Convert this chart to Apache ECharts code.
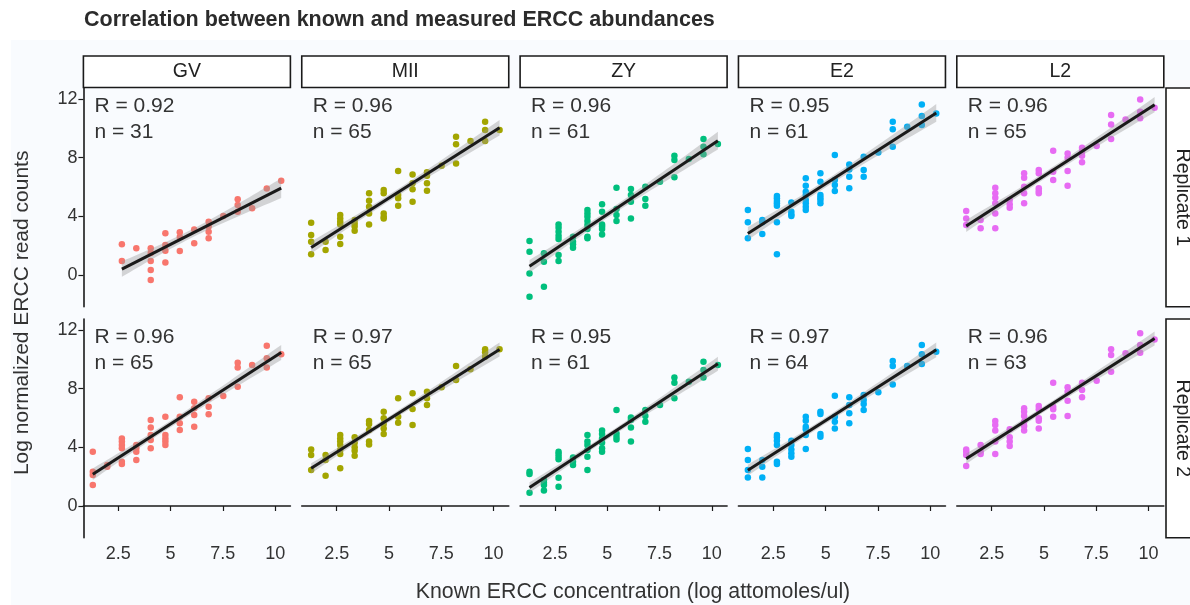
<!DOCTYPE html>
<html><head><meta charset="utf-8">
<script src="https://cdn.jsdelivr.net/npm/echarts@6/dist/echarts.min.js"></script>
<style>html,body{margin:0;padding:0;background:#fff}#c{width:1190px;height:605px}</style>
</head><body><div id="c"></div>
<script>
// ---------- data ----------
const concLevels = [1.28, 1.97, 2.67, 3.36, 4.05, 4.75, 5.44, 6.13, 6.82, 7.52, 8.21, 8.90, 9.60, 10.29];
const cellTypes = ['GV', 'MII', 'ZY', 'E2', 'L2'];
const replicates = ['Replicate 1', 'Replicate 2'];
const xTicks = [2.5, 5, 7.5, 10];
const yTicks = [0, 4, 8, 12];
const rRep1 = ['0.92', '0.96', '0.96', '0.95', '0.96'];
const nRep1 = [31, 65, 61, 61, 65];
const rRep2 = ['0.96', '0.97', '0.95', '0.97', '0.96'];
const nRep2 = [65, 65, 61, 64, 63];

// measured values, one list per concentration level
const gvRep1 = [[], [], [2.09, 0.95], [1.82], [1.82, 1.5, 0.95, 0.34, -0.34], [2.84, 2.05, 1.66, 0.86],
  [2.91, 2.6, 1.64], [3.11, 2.16], [3.64, 3.3, 2.95, 2.50], [4.02], [5.16, 4.77, 4.32], [4.55], [5.89], [6.43]];
const miiRep1 = [[3.57, 2.73, 2.27, 1.41], [2.27, 1.70], [4.09, 3.86, 3.64, 3.45, 2.61, 2.11], [3.75, 3.52, 3.30, 3.02],
  [5.57, 5.07, 4.66, 4.20, 3.45], [5.79, 5.57, 4.20, 3.98, 3.86], [7.09, 5.45, 5.23, 4.73], [6.86, 6.25, 5.84, 5.00],
  [7.00, 6.77, 6.25, 5.75], [7.45], [9.43, 8.91, 7.61], [9.13], [10.45, 9.88, 9.13], [9.88]];
const zyRep1 = [[2.32, 1.59, 0.11, -1.48], [1.48, 0.91, -0.80], [3.45, 3.23, 2.95, 2.68, 2.45, 1.36, 0.95], [2.61, 2.27, 2.09, 1.86],
  [4.43, 4.20, 3.98, 3.68, 3.41, 3.14, 2.61, 2.50], [4.82, 4.32, 3.45, 3.30, 3.14, 2.77], [5.95, 4.50, 4.09, 3.68],
  [5.86, 5.45, 5.00, 3.86], [6.02, 5.18, 4.73], [6.36], [8.13, 7.84, 6.66], [7.91], [9.27, 8.75, 8.23], [8.93]];
const e2Rep1 = [[4.43, 3.59, 2.50], [3.75, 3.59, 2.79], [5.39, 5.23, 5.04, 4.89, 4.73, 3.59, 1.41], [4.95, 4.32, 4.13, 4.02],
  [6.59, 6.09, 5.68, 5.45, 5.11, 4.89, 4.66, 4.43], [6.93, 6.36, 5.45, 5.27, 5.11, 4.89], [8.18, 6.48, 6.13, 5.73],
  [7.54, 7.2, 6.70, 5.91], [8.07, 7.16, 6.70], [8.36], [10.45, 9.93, 8.75], [10.11], [11.63, 10.84, 10.23], [11.02]];
const l2Rep1 = [[4.36, 3.86, 3.41], [3.75, 3.18], [5.95, 5.57, 5.27, 4.89, 4.20, 3.18], [5.11, 4.82, 4.59],
  [6.93, 6.63, 6.02, 5.57, 4.89], [7.16, 6.93, 5.91, 5.73, 5.57], [8.48, 7.04, 6.48], [8.29, 8.00, 7.09, 6.09],
  [8.68, 8.41, 8.13, 7.68], [8.79], [10.91, 10.27, 9.27], [10.61], [11.97, 11.13, 10.68], [11.41]];
const gvRep2 = [[3.70, 2.34, 2.11, 1.43], [2.79, 2.68], [4.61, 4.39, 4.16, 3.93, 3.02, 2.86], [4.16, 3.93, 3.70, 3.14],
  [5.86, 5.36, 4.84, 4.50, 3.93], [6.09, 4.84, 4.61, 4.39, 4.16], [7.41, 6.09, 5.64, 5.18], [7.11, 6.66, 6.20, 5.41],
  [7.34, 6.77, 6.25], [7.50], [9.77, 9.45, 8.13], [9.61], [10.93, 10.07, 9.45], [10.34]];
const miiRep2 = [[3.86, 3.48, 2.45], [3.48, 3.14, 2.07], [4.84, 4.61, 4.39, 4.16, 3.82, 3.54, 2.57], [4.68, 4.32, 4.00, 3.77, 3.43],
  [5.79, 5.59, 5.18, 4.39, 4.20], [6.43, 5.98, 5.59, 5.29, 4.91], [7.34, 6.09, 5.68], [7.68, 6.61, 5.52],
  [7.79, 7.34, 6.88], [8.09], [9.54, 8.59], [9.32], [10.68, 10.48, 10.18], [10.68]];
const zyRep2 = [[2.34, 2.18, 0.91], [1.77, 1.59, 1.43, 1.05], [3.70, 3.54, 3.36, 3.18, 1.93, 1.32], [3.30, 3.02, 2.79],
  [4.84, 4.39, 4.16, 3.82, 3.36, 2.45], [5.14, 4.91, 4.61, 4.32, 3.93, 3.70], [6.54, 4.95, 4.73, 4.54],
  [6.04, 5.86, 5.36, 4.39], [6.54, 6.13, 5.75], [6.88], [8.77, 8.41, 7.34], [8.48], [9.84, 9.27, 8.77], [9.61]];
const e2Rep2 = [[3.89, 3.14, 2.45, 1.95], [3.14, 2.68, 1.95], [4.84, 4.68, 4.45, 4.16, 3.02, 2.86], [4.45, 4.16, 3.86, 3.59, 3.36],
  [6.09, 5.82, 5.41, 5.23, 4.84, 3.89], [6.43, 6.27, 4.91, 4.73], [7.52, 6.09, 5.75, 5.29], [7.41, 6.88, 6.32, 5.64],
  [7.57, 7.23, 6.95, 6.54], [7.75], [9.88, 9.54, 8.29], [9.54], [10.97, 10.34, 9.68], [10.52]];
const l2Rep2 = [[3.86, 3.70, 3.48, 2.73], [4.16, 3.70, 3.54], [5.79, 5.52, 5.14, 4.39, 3.54], [5.23, 4.68, 4.39, 4.09],
  [6.66, 6.43, 6.13, 5.75, 5.45, 5.14], [6.82, 6.59, 5.98, 5.82, 5.29], [8.41, 6.77, 6.59, 6.09], [8.09, 7.79, 7.18, 6.13],
  [8.41, 7.91, 7.41], [8.54], [10.68, 10.29, 9.16], [10.41], [11.77, 10.97, 10.45], [11.36]];

const panelData = [[gvRep1, miiRep1, zyRep1, e2Rep1, l2Rep1], [gvRep2, miiRep2, zyRep2, e2Rep2, l2Rep2]];
const rLabels = [rRep1, rRep2];
const nLabels = [nRep1, nRep2];

// ---------- style / layout ----------
const colors = ['#F8766D', '#A3A500', '#00BF7D', '#00B0F6', '#E76BF3'];
const FONT = '"Liberation Sans", Arial, sans-serif';
const TXT = '#333333';
const LINE = '#1a1a1a';
const L0 = 83.4, STEP = 218.35, W = 207, H = 218.7, TOPS = [88, 319];
const XMIN = 0.83, XMAX = 10.73, YMIN = -2.16, YMAX = 12.75;

function toPoints(levels) {
  const out = [];
  levels.forEach((vals, k) => vals.forEach(v => out.push([concLevels[k], v])));
  return out;
}
function linFit(pts) {
  const n = pts.length;
  let mx = 0, my = 0;
  pts.forEach(p => { mx += p[0]; my += p[1]; });
  mx /= n; my /= n;
  let sxx = 0, sxy = 0;
  pts.forEach(p => { sxx += (p[0] - mx) ** 2; sxy += (p[0] - mx) * (p[1] - my); });
  const b = sxy / sxx, a = my - b * mx;
  let ss = 0;
  pts.forEach(p => { ss += (p[1] - a - b * p[0]) ** 2; });
  const s = Math.sqrt(ss / (n - 2));
  const xs = pts.map(p => p[0]);
  return { a, b, s, n, mx, sxx, x0: Math.min(...xs), x1: Math.max(...xs) };
}

const grids = [], xAxes = [], yAxes = [], series = [], graphics = [];

graphics.push({ type: 'rect', shape: { x: 11, y: 40, width: 1190, height: 600 }, style: { fill: '#F9FBFE' }, z: -10 });
graphics.push({ type: 'text', x: 84, y: 20, style: { text: 'Correlation between known and measured ERCC abundances',
  font: 'bold 21.5px ' + FONT, fill: '#2b2b2b', textVerticalAlign: 'middle' } });
graphics.push({ type: 'text', x: 22, y: TOPS[0] + (TOPS[1] + H - TOPS[0]) / 2, rotation: Math.PI / 2,
  style: { text: 'Log normalized ERCC read counts', font: '21px ' + FONT, fill: TXT, textAlign: 'center', textVerticalAlign: 'middle' } });
graphics.push({ type: 'text', x: 633, y: 592,
  style: { text: 'Known ERCC concentration (log attomoles/ul)', font: '21.3px ' + FONT, fill: TXT, textAlign: 'center', textVerticalAlign: 'middle' } });

cellTypes.forEach((ct, c) => {
  const left = L0 + STEP * c;
  graphics.push({ type: 'rect', shape: { x: left, y: 56, width: W, height: 31.5 },
    style: { fill: '#ffffff', stroke: LINE, lineWidth: 1.6 } });
  graphics.push({ type: 'text', x: left + W / 2, y: 72,
    style: { text: ct, font: '19.5px ' + FONT, fill: '#222', textAlign: 'center', textVerticalAlign: 'middle' } });
});
replicates.forEach((rep, r) => {
  graphics.push({ type: 'rect', shape: { x: 1166, y: TOPS[r], width: 40, height: H },
    style: { fill: '#ffffff', stroke: LINE, lineWidth: 1.6 } });
  graphics.push({ type: 'text', x: 1182, y: TOPS[r] + H / 2, rotation: -Math.PI / 2,
    style: { text: rep, font: '19.5px ' + FONT, fill: '#222', textAlign: 'center', textVerticalAlign: 'middle' } });
});

for (let r = 0; r < 2; r++) {
  for (let c = 0; c < 5; c++) {
    const idx = r * 5 + c;
    const left = L0 + STEP * c, top = TOPS[r];
    grids.push({ left: left, top: top, width: W, height: H, containLabel: false });
    xAxes.push({
      gridIndex: idx, type: 'value', min: XMIN, max: XMAX,
      axisLine: { show: r === 1, lineStyle: { color: LINE, width: 1.6 } },
      axisTick: { show: r === 1, customValues: xTicks, length: 5, lineStyle: { color: LINE, width: 1.2 } },
      axisLabel: { show: r === 1, customValues: xTicks, fontSize: 18, color: TXT, fontFamily: FONT, margin: 7 },
      splitLine: { show: false }
    });
    yAxes.push({
      gridIndex: idx, type: 'value', min: YMIN, max: YMAX,
      axisLine: { show: c === 0, lineStyle: { color: LINE, width: 1.6 } },
      axisTick: { show: c === 0, customValues: yTicks, length: 5, lineStyle: { color: LINE, width: 1.2 } },
      axisLabel: { show: c === 0, customValues: yTicks, fontSize: 18, color: TXT, fontFamily: FONT, margin: 6 },
      splitLine: { show: false }
    });
    const pts = toPoints(panelData[r][c]);
    const f = linFit(pts);
    const upper = [], lower = [];
    const NS = 40, t = 2.0;
    for (let i = 0; i <= NS; i++) {
      const x = f.x0 + (f.x1 - f.x0) * i / NS;
      const yh = f.a + f.b * x;
      const se = f.s * Math.sqrt(1 / f.n + (x - f.mx) ** 2 / f.sxx);
      upper.push([x, yh + t * se]); lower.push([x, yh - t * se]);
    }
    series.push({
      type: 'scatter', xAxisIndex: idx, yAxisIndex: idx, data: pts, symbolSize: 6.5,
      itemStyle: { color: colors[c], opacity: 1 }, silent: true, z: 2
    });
    series.push({
      type: 'custom', xAxisIndex: idx, yAxisIndex: idx, data: [[f.x0, f.a + f.b * f.x0]], silent: true, z: 3,
      renderItem: (params, api) => {
        const poly = upper.map(p => api.coord(p)).concat(lower.slice().reverse().map(p => api.coord(p)));
        return { type: 'polygon', shape: { points: poly }, style: { fill: 'rgba(153,153,153,0.4)' } };
      }
    });
    series.push({
      type: 'line', xAxisIndex: idx, yAxisIndex: idx, symbol: 'none', silent: true, z: 4,
      data: [[f.x0, f.a + f.b * f.x0], [f.x1, f.a + f.b * f.x1]],
      lineStyle: { color: LINE, width: 3 }
    });
    graphics.push({ type: 'text', x: left + 11, y: top + 18,
      style: { text: 'R = ' + rLabels[r][c], font: '21px ' + FONT, fill: TXT, textVerticalAlign: 'middle' } });
    graphics.push({ type: 'text', x: left + 11, y: top + 44,
      style: { text: 'n = ' + nLabels[r][c], font: '21px ' + FONT, fill: TXT, textVerticalAlign: 'middle' } });
  }
}

const chart = echarts.init(document.getElementById('c'), null, { renderer: 'canvas' });
chart.setOption({
  animation: false,
  backgroundColor: '#ffffff',
  grid: grids, xAxis: xAxes, yAxis: yAxes, series: series, graphic: graphics
});
</script></body></html>
